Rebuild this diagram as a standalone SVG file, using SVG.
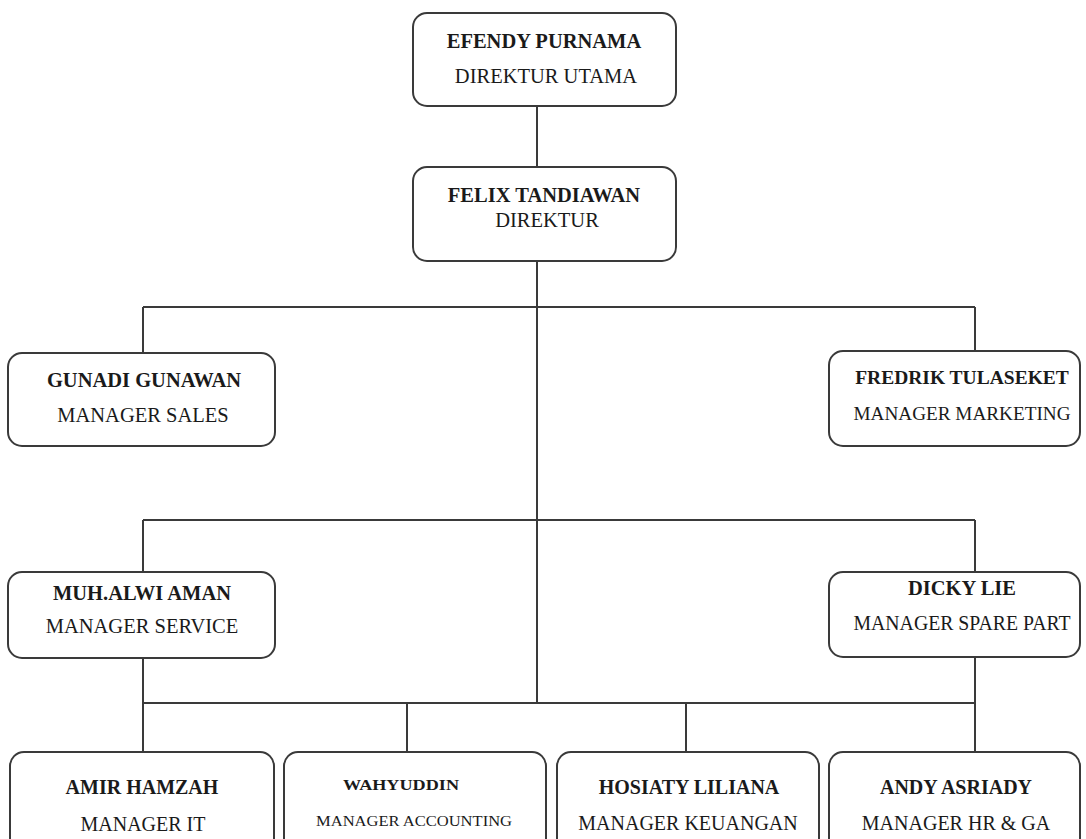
<svg xmlns="http://www.w3.org/2000/svg" width="1086" height="839" viewBox="0 0 1086 839">
<style>
.box{fill:#fff;stroke:#3a3a3a;stroke-width:2}
.ln{stroke:#3a3a3a;stroke-width:2;fill:none}
text{font-family:"Liberation Serif","Times New Roman",serif;fill:#1a1a1a;text-anchor:middle}
.nm{font-weight:bold;font-size:20.5px}
.rl{font-size:20.5px}
.nm2{font-weight:bold;font-size:20px}
.rl2{font-size:20px}
</style>
<rect width="1086" height="839" fill="#fff"/>
<g id="connectors">
<path class="ln" d="M537,106V167M537,261V703M143,307H975M143,307V353M975,307V351M143,520H975M143,520V572M975,520V572M143,658V752M975,657V752M143,703H975M407,703V752M686,703V752"/>
</g>
<g id="n-efendy">
<rect class="box" x="413" y="13" width="263" height="93" rx="14"/>
<text class="nm" x="544" y="48">EFENDY PURNAMA</text>
<text class="rl" x="546" y="83">DIREKTUR UTAMA</text>
</g>
<g id="n-felix">
<rect class="box" x="413" y="167" width="263" height="94" rx="14"/>
<text class="nm" x="544" y="202">FELIX TANDIAWAN</text>
<text class="rl" x="547" y="227">DIREKTUR</text>
</g>
<g id="n-gunadi">
<rect class="box" x="8" y="353" width="267" height="93" rx="14"/>
<text class="nm" x="144" y="387">GUNADI GUNAWAN</text>
<text class="rl" x="143" y="422">MANAGER SALES</text>
</g>
<g id="n-fredrik">
<rect class="box" x="829" y="351" width="251" height="95" rx="14"/>
<text class="nm" x="962" y="384" style="font-size:19.5px">FREDRIK TULASEKET</text>
<text class="rl" x="962" y="420" style="font-size:19.5px" textLength="217" lengthAdjust="spacingAndGlyphs">MANAGER MARKETING</text>
</g>
<g id="n-muhalwi">
<rect class="box" x="8" y="572" width="267" height="86" rx="14"/>
<text class="nm" x="142" y="600">MUH.ALWI AMAN</text>
<text class="rl" x="142" y="633">MANAGER SERVICE</text>
</g>
<g id="n-dicky">
<rect class="box" x="829" y="572" width="251" height="85" rx="14"/>
<text class="nm" x="962" y="595">DICKY LIE</text>
<text class="rl" x="962" y="630" textLength="217" lengthAdjust="spacingAndGlyphs">MANAGER SPARE PART</text>
</g>
<g id="n-amir">
<rect class="box" x="10" y="752" width="264" height="110" rx="14"/>
<text class="nm2" x="142" y="794">AMIR HAMZAH</text>
<text class="rl2" x="143" y="831">MANAGER IT</text>
</g>
<g id="n-wahyuddin">
<rect class="box" x="284" y="752" width="262" height="110" rx="14"/>
<text class="nm2" x="401" y="790" style="font-size:15px" textLength="116" lengthAdjust="spacingAndGlyphs">WAHYUDDIN</text>
<text class="rl2" x="414" y="826" style="font-size:15px" textLength="196" lengthAdjust="spacingAndGlyphs">MANAGER  ACCOUNTING</text>
</g>
<g id="n-hosiaty">
<rect class="box" x="557" y="752" width="262" height="110" rx="14"/>
<text class="nm2" x="689" y="794">HOSIATY LILIANA</text>
<text class="rl2" x="688" y="830">MANAGER KEUANGAN</text>
</g>
<g id="n-andy">
<rect class="box" x="829" y="752" width="251" height="110" rx="14"/>
<text class="nm2" x="956" y="794">ANDY ASRIADY</text>
<text class="rl2" x="956" y="830">MANAGER HR &amp; GA</text>
</g>
</svg>
